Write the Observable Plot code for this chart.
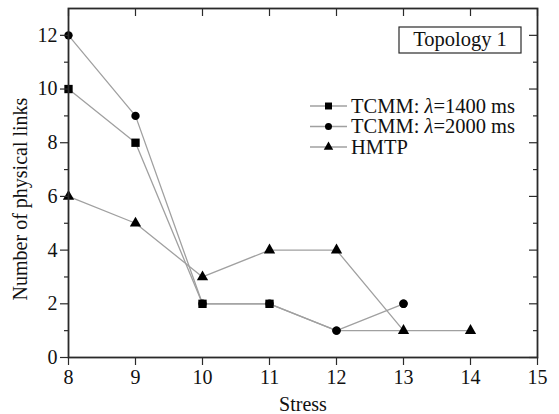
<!DOCTYPE html>
<html><head>
<meta charset="utf-8">
<script src="https://cdn.jsdelivr.net/npm/d3@7"></script>
<script src="https://cdn.jsdelivr.net/npm/@observablehq/plot@0.6"></script>
<style>body{margin:0;background:#fff}</style>
</head><body><div id="chart"></div>
<script>
const stress = [8, 9, 10, 11, 12, 13, 14];
const tcmm1400 = [10, 8, 2, 2, 1, 1];
const tcmm2000 = [12, 9, 2, 2, 1, 2];
const hmtp = [6, 5, 3, 4, 4, 1, 1];
const seriesNames = ["TCMM: λ=1400 ms", "TCMM: λ=2000 ms", "HMTP"];
const symbols = ["square", "circle", "triangle"];
const xTicks = [8, 9, 10, 11, 12, 13, 14, 15];
const yMajor = [0, 2, 4, 6, 8, 10, 12];
const yMinor = [1, 3, 5, 7, 9, 11];
const boxTitle = "Topology 1";

const rows = [];
[tcmm1400, tcmm2000, hmtp].forEach((vals, i) =>
  vals.forEach((v, j) => rows.push({series: seriesNames[i], x: stress[j], y: v})));

const W = 559, H = 414, ml = 68, mr = 22, mt = 8, mb = 57;
const innerW = W - ml - mr, innerH = H - mt - mb;
const FONT = "'Liberation Serif', 'Times New Roman', serif";
const INK = "#2a2a2a";
const sizes = {"square": 4.7, "circle": 4.2, "triangle": 4.2};

function legend(index, scales, values, dim) {
  const g = d3.create("svg:g").attr("font-family", FONT).attr("font-size", 20.5)
    .attr("fill", "#111").attr("text-anchor", "start");
  const x0 = 310, x1 = 347, tx = 351, ys = [106, 126.5, 147];
  seriesNames.forEach((name, i) => {
    const y = ys[i];
    g.append("line").attr("x1", x0).attr("x2", x1).attr("y1", y).attr("y2", y)
      .attr("stroke", "#a0a0a0").attr("stroke-width", 1.3);
    const r = sizes[symbols[i]];
    const sym = {square: d3.symbolSquare, circle: d3.symbolCircle, triangle: d3.symbolTriangle}[symbols[i]];
    g.append("path").attr("d", d3.symbol(sym, Math.PI * r * r * 0.7)())
      .attr("transform", `translate(${(x0 + x1) / 2},${y})`).attr("fill", "#000");
    const t = g.append("text").attr("x", tx).attr("y", y).attr("dy", "0.34em").attr("text-anchor", "start");
    if (name.includes("λ")) {
      const [a, b] = name.split("λ");
      t.append("tspan").text(a);
      t.append("tspan").attr("font-style", "italic").text("λ");
      t.append("tspan").text(b);
    } else t.text(name);
  });
  g.append("rect").attr("x", 399).attr("y", 27).attr("width", 122).attr("height", 26)
    .attr("fill", "none").attr("stroke", INK).attr("stroke-width", 1.2);
  g.append("text").attr("x", 460).attr("y", 46).attr("text-anchor", "middle").text(boxTitle);
  return g.node();
}

const bySeries = i => rows.filter(d => d.series === seriesNames[i]);
const dotOpts = i => ({x: "x", y: "y", symbol: () => symbols[i], fill: "#000", stroke: "none", r: sizes[symbols[i]]});

const plot = Plot.plot({
  width: W, height: H,
  marginLeft: ml, marginRight: mr, marginTop: mt, marginBottom: mb,
  style: {fontFamily: FONT, fontSize: "20px", color: "#111", background: "#fff"},
  x: {domain: [8, 15]},
  y: {domain: [0, 13]},
  marks: [
    Plot.line(rows, {x: "x", y: "y", z: "series", stroke: "#a0a0a0", strokeWidth: 1.3}),
    Plot.dot(bySeries(1), dotOpts(1)),
    Plot.dot(bySeries(0).filter(d => d.x < 12), dotOpts(0)),
    Plot.dot(bySeries(1).filter(d => d.x >= 12), dotOpts(1)),
    Plot.dot(bySeries(2), dotOpts(2)),
    Plot.axisX(xTicks, {tickSize: 8, tickPadding: 4, label: null, stroke: INK, strokeWidth: 1.2, fontSize: 20}),
    Plot.axisY(yMajor, {tickSize: 8, tickPadding: 3, label: null, stroke: INK, strokeWidth: 1.2, fontSize: 20}),
    Plot.axisY(yMinor, {tickSize: 4, tickFormat: () => "", label: null, stroke: INK, strokeWidth: 1.2}),
    Plot.ruleX(xTicks, {x: d => d, insetBottom: innerH - 8, stroke: INK, strokeWidth: 1.2}),
    Plot.ruleY(yMajor, {y: d => d, insetLeft: innerW - 8, stroke: INK, strokeWidth: 1.2}),
    Plot.ruleY(yMinor, {y: d => d, insetLeft: innerW - 4, stroke: INK, strokeWidth: 1.2}),
    Plot.frame({stroke: INK, strokeWidth: 1.8}),
    Plot.text(["Stress"], {frameAnchor: "bottom", dy: 53, lineAnchor: "bottom", textAnchor: "middle", fontSize: 20, fill: "#111"}),
    Plot.text(["Number of physical links"], {frameAnchor: "left", rotate: -90, dx: -48, dy: 16, textAnchor: "middle", lineAnchor: "middle", fontSize: 20, fill: "#111"}),
    legend
  ]
});
document.getElementById("chart").appendChild(plot);
</script>
</body></html>
